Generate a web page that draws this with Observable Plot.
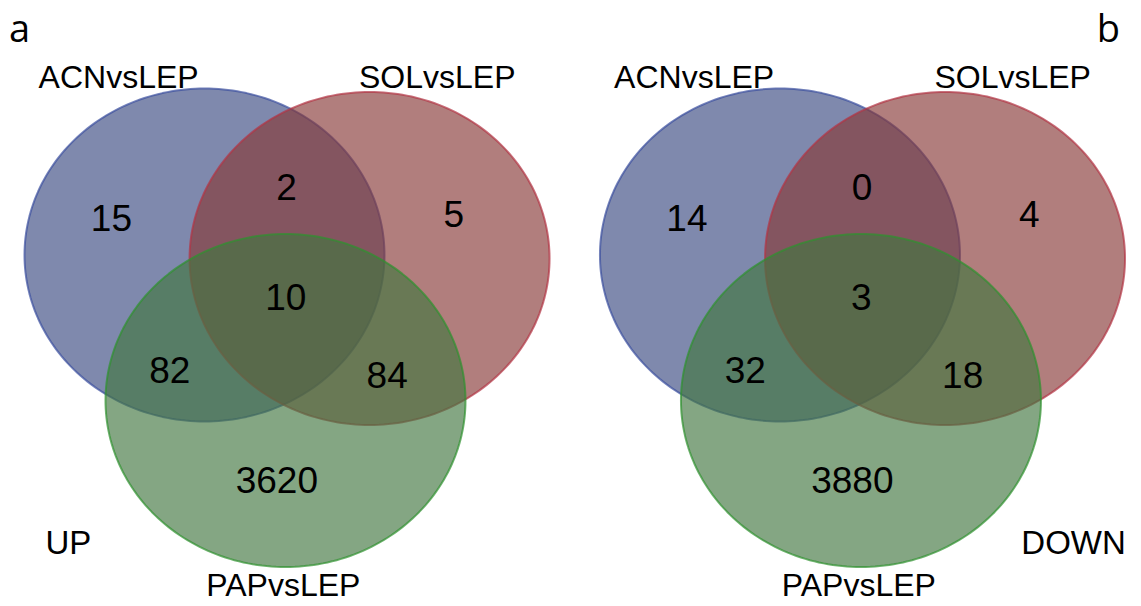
<!DOCTYPE html>
<html>
<head>
<meta charset="utf-8">
<script src="https://cdn.jsdelivr.net/npm/d3@7"></script>
<script src="https://cdn.jsdelivr.net/npm/@observablehq/plot@0.6"></script>
<style>
  html, body { margin: 0; padding: 0; background: #fff; }
</style>
</head>
<body>
<div id="chart"></div>
<script>
// Three-way Venn diagrams of differentially expressed genes, up- and down-regulated.
const panels = ["a", "b"];
const directions = ["UP", "DOWN"];
const sets = ["ACNvsLEP", "SOLvsLEP", "PAPvsLEP"];
// Region order: ACN only, ACN∩SOL, SOL only, all three, ACN∩PAP, SOL∩PAP, PAP only
const regions = ["ACN", "ACN∩SOL", "SOL", "ACN∩SOL∩PAP", "ACN∩PAP", "SOL∩PAP", "PAP"];
const countsUp = [15, 2, 5, 10, 82, 84, 3620];
const countsDown = [14, 0, 4, 3, 32, 18, 3880];

// Layout, in units of one circle radius (x and y scaled separately)
const layout = {
  centers: {ACNvsLEP: [0, 0], SOLvsLEP: [0.917, 0.021], PAPvsLEP: [0.45, 0.874]},
  regionPos: {
    "ACN": [-0.517, -0.213], "ACN∩SOL": [0.456, -0.399], "SOL": [1.385, -0.237],
    "ACN∩SOL∩PAP": [0.452, 0.258], "ACN∩PAP": [-0.193, 0.700], "SOL∩PAP": [1.015, 0.730],
    "PAP": [0.402, 1.360]
  },
  setLabelPos: {ACNvsLEP: [-0.477, -1.066], SOLvsLEP: [1.293, -1.066], PAPvsLEP: [0.438, 1.985]},
  panelShift: {a: 0, b: 3.197},
  tagPos: {a: [-1.028, -1.282], b: [1.825, -1.282]},   // baseline positions
  directionPos: {UP: [-0.756, 1.733], DOWN: [1.631, 1.733]}
};
const style = {
  fill: {ACNvsLEP: "#3a4981", SOLvsLEP: "#873937", PAPvsLEP: "#427640"},
  stroke: {ACNvsLEP: "#3b4f9e", SOLvsLEP: "#b23444", PAPvsLEP: "#2f922f"}
};

const counts = {a: countsUp, b: countsDown};

// Outline polygons for each set circle in each panel
const outlines = [];
for (const p of panels) {
  for (const s of sets) {
    const [cx, cy] = layout.centers[s];
    for (let k = 0; k < 240; ++k) {
      const t = (2 * Math.PI * k) / 240;
      outlines.push({panel: p, set: s, x: cx + layout.panelShift[p] + Math.cos(t), y: cy + Math.sin(t)});
    }
  }
}

const regionLabels = panels.flatMap(p => regions.map((r, i) => ({
  x: layout.regionPos[r][0] + layout.panelShift[p],
  y: layout.regionPos[r][1],
  text: String(counts[p][i])
})));

const setLabels = panels.flatMap(p => sets.map(s => ({
  x: layout.setLabelPos[s][0] + layout.panelShift[p],
  y: layout.setLabelPos[s][1],
  text: s
})));

const tags = panels.map(p => ({
  x: layout.tagPos[p][0] + layout.panelShift[p], y: layout.tagPos[p][1], text: p
}));
const dirLabels = panels.map((p, i) => ({
  x: layout.directionPos[directions[i]][0] + layout.panelShift[p],
  y: layout.directionPos[directions[i]][1],
  text: directions[i]
}));

const circleMarks = panels.flatMap(p => sets.map(s => Plot.line(
  outlines.filter(d => d.panel === p && d.set === s),
  {x: "x", y: "y", curve: "linear-closed",
   fill: style.fill[s], fillOpacity: 0.65,
   stroke: style.stroke[s], strokeOpacity: 0.7, strokeWidth: 2}
)));

const font = "'Liberation Sans', Arial, sans-serif";

const chart = Plot.plot({
  width: 1141,
  height: 606,
  margin: 0,
  x: {domain: [-204 / 180, (1141 - 204) / 180], axis: null},
  y: {domain: [(606 - 254.5) / 166.5, -254.5 / 166.5], axis: null},
  style: {background: "#fff", fontFamily: font},
  marks: [
    ...circleMarks,
    Plot.text(regionLabels, {x: "x", y: "y", text: "text", fontSize: 37, fill: "#000", fontFamily: font}),
    Plot.text(setLabels, {x: "x", y: "y", text: "text", fontSize: 32, fill: "#000", fontFamily: font}),
    Plot.text(dirLabels, {x: "x", y: "y", text: "text", fontSize: 33, fill: "#000", fontFamily: font}),
    Plot.text(tags, {x: "x", y: "y", text: "text", fontSize: 38, fill: "#000", lineAnchor: "bottom",
      fontFamily: "'Liberation Sans Narrow', 'Open Sans', sans-serif"})
  ]
});

document.getElementById("chart").append(chart);
</script>
</body>
</html>
